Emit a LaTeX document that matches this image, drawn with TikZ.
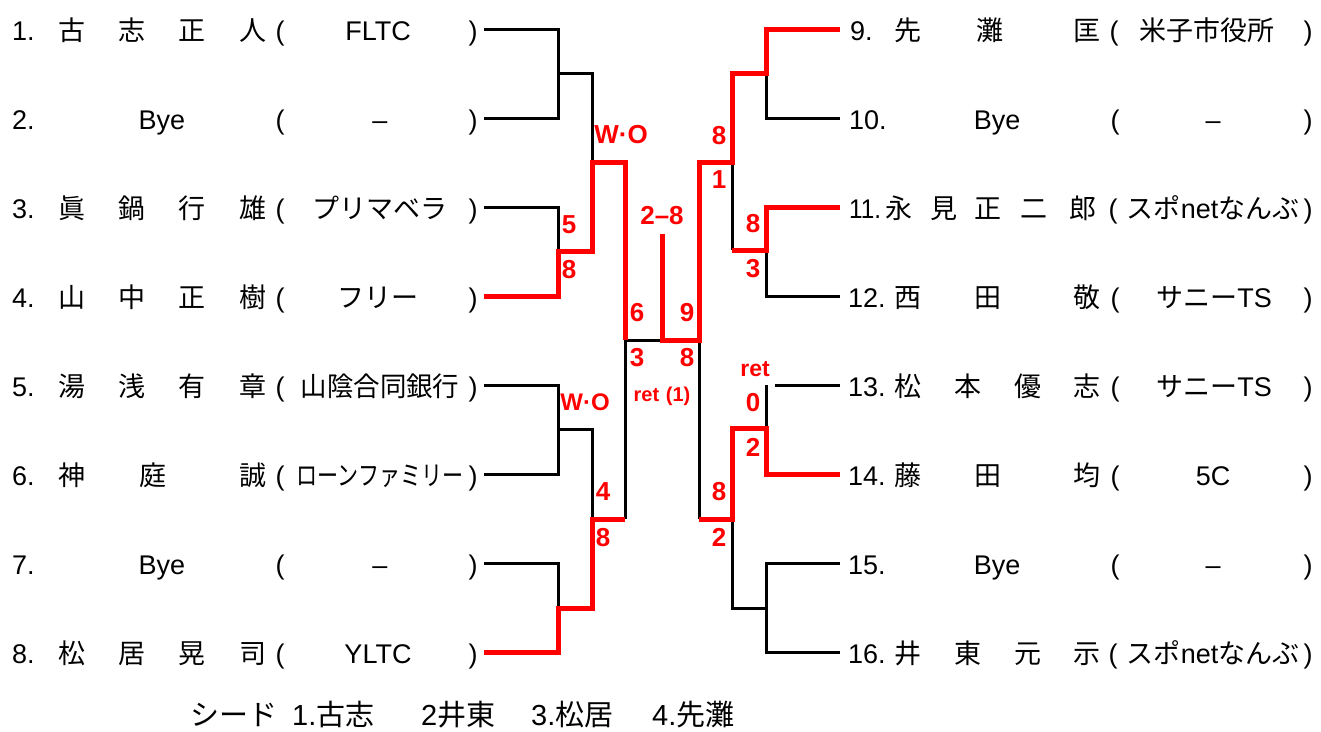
\documentclass[tikz,border=0pt]{standalone}
\usepackage{fontspec}
\usepackage{graphicx}
\setmainfont{Liberation Sans}
\newfontfamily\cjk{Noto Sans CJK JP}
\newcommand\wodot{W·O}
\begin{document}
\begin{tikzpicture}[x=1pt,y=-1pt,
  lt/.style={font=\fontsize{27}{30}\selectfont, inner sep=0pt, anchor=base},
  jp/.style={font=\cjk\fontsize{27}{30}\selectfont, inner sep=0pt, anchor=base},
  num/.style={lt, anchor=base west},
  ft/.style={font=\fontsize{29}{31}\selectfont, inner sep=0pt, anchor=base west},
  sc/.style={font=\bfseries\fontsize{26}{28}\selectfont, text=red, inner sep=0pt, text height=0.716em, text depth=0pt},
  scs/.style={sc, font=\bfseries\fontsize{20}{22}\selectfont},
  blk/.style={line width=3pt, black},
  rd/.style={line width=5pt, red, line join=miter}]
\useasboundingbox[fill=white] (0,0) rectangle (1321,731);

% ---------------- black bracket lines ----------------
\draw[blk] (484,29) -- (558,29) -- (558,118) -- (484,118);
\draw[blk] (558,73) -- (592,73) -- (592,162);
\draw[blk] (484,207) -- (558,207) -- (558,251);
\draw[blk] (484,385) -- (558,385) -- (558,474) -- (484,474);
\draw[blk] (558,429) -- (592,429) -- (592,519);
\draw[blk] (484,563) -- (558,563) -- (558,608);
\draw[blk] (625,519) -- (625,340) -- (662,340);
\draw[blk] (766,73) -- (766,118) -- (840,118);
\draw[blk] (732,162) -- (732,250);
\draw[blk] (766,250) -- (766,296) -- (840,296);
\draw[blk] (699,340) -- (699,519);
\draw[blk] (775,385) -- (840,385);
\draw[blk] (766,385) -- (766,428);
\draw[blk] (732,519) -- (732,608) -- (766,608);
\draw[blk] (840,563) -- (766,563) -- (766,652) -- (840,652);

% ---------------- red winner lines ----------------
\draw[rd] (484,296) -- (558,296) -- (558,251) -- (592,251) -- (592,162) -- (625,162) -- (625,340);
\draw[rd] (484,652) -- (558,652) -- (558,608) -- (592,608) -- (592,519) -- (625,519);
\draw[rd] (662,234) -- (662,340) -- (699,340) -- (699,162) -- (732,162) -- (732,73) -- (766,73) -- (766,29) -- (840,29);
\draw[rd] (840,207) -- (766,207) -- (766,250) -- (732,250);
\draw[rd] (840,474) -- (766,474) -- (766,428) -- (732,428) -- (732,519) -- (699,519);

% ---------------- scores ----------------
\node[sc] (wo1) at (621,140) {\wodot};
\node[sc] (s5) at (569,230) {5};
\node[sc] (s8a) at (569,275) {8};
\node[sc] (s6) at (637,318) {6};
\node[sc] (s9) at (687,318) {9};
\node[sc] (s28) at (662,221) {2–8};
\node[sc] (s8b) at (719,141) {8};
\node[sc] (s1) at (719,185) {1};
\node[sc] (s8c) at (753,229) {8};
\node[sc] (s3a) at (753,274) {3};
\node[sc] (s3b) at (637,363) {3};
\node[sc] (s8d) at (687,363) {8};
\node[scs] (ret1) at (662,398) {ret\,\,(1)};
\node[sc, font=\bfseries\fontsize{24}{26}\selectfont] (wo2) at (585,407) {\wodot};
\node[sc] (s4) at (603,497) {4};
\node[sc] (s8e) at (603,543) {8};
\node[sc, font=\bfseries\fontsize{23}{25}\selectfont] (ret2) at (755,373) {ret};
\node[sc] (s0) at (753,408) {0};
\node[sc] (s2a) at (753,453) {2};
\node[sc] (s8f) at (719,497) {8};
\node[sc] (s2b) at (719,543) {2};

% ---------------- left entries ----------------
% row 1
\node[num] (n1) at (12,40) {1.};
\node[jp] (a1) at (72,40) {古};
\node[jp] (b1) at (132,40) {志};
\node[jp] (c1) at (192,40) {正};
\node[jp] (d1) at (253,40) {人};
\node[lt] (o1) at (280,40) {(};
\node[lt] (f1) at (378,40) {FLTC};
\node[lt] (p1) at (473,40) {)};
% row 2
\node[num] (n2) at (12,129) {2.};
\node[lt] (a2) at (162,129) {Bye};
\node[lt] (o2) at (280,129) {(};
\node[lt] (f2) at (380,129) {–};
\node[lt] (p2) at (473,129) {)};
% row 3
\node[num] (n3) at (12,218) {3.};
\node[jp] (a3) at (72,218) {眞};
\node[jp] (b3) at (132,218) {鍋};
\node[jp] (c3) at (192,218) {行};
\node[jp] (d3) at (253,218) {雄};
\node[lt] (o3) at (280,218) {(};
\node[jp] (f3) at (380,218) {プリマベラ};
\node[lt] (p3) at (473,218) {)};
% row 4
\node[num] (n4) at (12,307) {4.};
\node[jp] (a4) at (72,307) {山};
\node[jp] (b4) at (132,307) {中};
\node[jp] (c4) at (192,307) {正};
\node[jp] (d4) at (253,307) {樹};
\node[lt] (o4) at (280,307) {(};
\node[jp] (f4) at (378,307) {フリー};
\node[lt] (p4) at (473,307) {)};
% row 5
\node[num] (n5) at (12,396) {5.};
\node[jp] (a5) at (72,396) {湯};
\node[jp] (b5) at (132,396) {浅};
\node[jp] (c5) at (192,396) {有};
\node[jp] (d5) at (253,396) {章};
\node[lt] (o5) at (280,396) {(};
\node[jp] (f5) at (380,396) {\scalebox{0.98}[1]{山陰合同銀行}};
\node[lt] (p5) at (473,396) {)};
% row 6
\node[num] (n6) at (12,485) {6.};
\node[jp] (a6) at (72,485) {神};
\node[jp] (b6) at (153,485) {庭};
\node[jp] (d6) at (253,485) {誠};
\node[lt] (o6) at (280,485) {(};
\node[jp] (f6) at (380,485) {\scalebox{0.78}[1]{ローンファミリー}};
\node[lt] (p6) at (473,485) {)};
% row 7
\node[num] (n7) at (12,574) {7.};
\node[lt] (a7) at (162,574) {Bye};
\node[lt] (o7) at (280,574) {(};
\node[lt] (f7) at (380,574) {–};
\node[lt] (p7) at (473,574) {)};
% row 8
\node[num] (n8) at (12,663) {8.};
\node[jp] (a8) at (72,663) {松};
\node[jp] (b8) at (132,663) {居};
\node[jp] (c8) at (192,663) {晃};
\node[jp] (d8) at (253,663) {司};
\node[lt] (o8) at (280,663) {(};
\node[lt] (f8) at (378,663) {YLTC};
\node[lt] (p8) at (473,663) {)};

% ---------------- right entries ----------------
% row 9
\node[num] (n9) at (850,40) {9.};
\node[jp] (a9) at (908,40) {先};
\node[jp] (b9) at (990,40) {灘};
\node[jp] (d9) at (1087,40) {匡};
\node[lt] (o9) at (1114,40) {(};
\node[jp] (f9) at (1207,40) {米子市役所};
\node[lt] (p9) at (1308,40) {)};
% row 10
\node[num] (n10) at (849,129) {10.};
\node[lt] (a10) at (997,129) {Bye};
\node[lt] (o10) at (1115,129) {(};
\node[lt] (f10) at (1213,129) {–};
\node[lt] (p10) at (1308,129) {)};
% row 11
\node[num] (n11) at (849,218) {\scalebox{0.9}[1]{11.}};
\node[jp] (a11) at (899,218) {永};
\node[jp] (b11) at (944,218) {見};
\node[jp] (c11) at (988,218) {正};
\node[jp] (e11) at (1034,218) {二};
\node[jp] (d11) at (1083,218) {郎};
\node[lt] (o11) at (1113,218) {(};
\node[lt] (f11) at (1213,218) {{\cjk スポ}net{\cjk なんぶ}};
\node[lt] (p11) at (1308,218) {)};
% row 12
\node[num] (n12) at (848,307) {12.};
\node[jp] (a12) at (908,307) {西};
\node[jp] (b12) at (988,307) {田};
\node[jp] (d12) at (1087,307) {敬};
\node[lt] (o12) at (1115,307) {(};
\node[lt] (f12) at (1214,307) {{\cjk サニー}TS};
\node[lt] (p12) at (1308,307) {)};
% row 13
\node[num] (n13) at (848,396) {13.};
\node[jp] (a13) at (908,396) {松};
\node[jp] (b13) at (968,396) {本};
\node[jp] (c13) at (1028,396) {優};
\node[jp] (d13) at (1087,396) {志};
\node[lt] (o13) at (1115,396) {(};
\node[lt] (f13) at (1214,396) {{\cjk サニー}TS};
\node[lt] (p13) at (1308,396) {)};
% row 14
\node[num] (n14) at (848,485) {14.};
\node[jp] (a14) at (908,485) {藤};
\node[jp] (b14) at (988,485) {田};
\node[jp] (d14) at (1087,485) {均};
\node[lt] (o14) at (1115,485) {(};
\node[lt] (f14) at (1213,485) {5C};
\node[lt] (p14) at (1308,485) {)};
% row 15
\node[num] (n15) at (848,574) {15.};
\node[lt] (a15) at (997,574) {Bye};
\node[lt] (o15) at (1115,574) {(};
\node[lt] (f15) at (1213,574) {–};
\node[lt] (p15) at (1308,574) {)};
% row 16
\node[num] (n16) at (848,663) {16.};
\node[jp] (a16) at (908,663) {井};
\node[jp] (b16) at (968,663) {東};
\node[jp] (c16) at (1028,663) {元};
\node[jp] (d16) at (1087,663) {示};
\node[lt] (o16) at (1113,663) {(};
\node[lt] (f16) at (1213,663) {{\cjk スポ}net{\cjk なんぶ}};
\node[lt] (p16) at (1308,663) {)};

% ---------------- footer ----------------
\node[ft] (seed) at (190,725) {\cjk シード};
\node[ft] (sd1) at (292,725) {1.{\cjk 古志}};
\node[ft] (sd2) at (421,725) {2{\cjk 井東}};
\node[ft] (sd3) at (531,725) {3.{\cjk 松居}};
\node[ft] (sd4) at (652,725) {4.{\cjk 先灘}};
\end{tikzpicture}
\end{document}
